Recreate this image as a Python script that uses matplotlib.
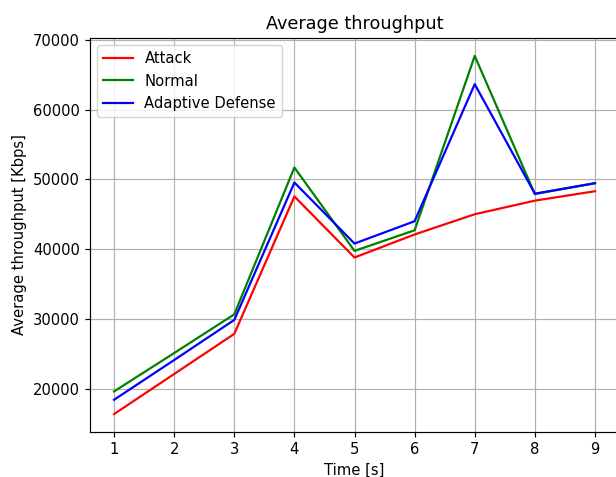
import matplotlib
matplotlib.use("Agg")
import matplotlib.pyplot as plt

time_s = [1, 2, 3, 4, 5, 6, 7, 8, 9]
attack = [16350, 22100, 27850, 47550, 38800, 42100, 45000, 46950, 48300]
normal = [19600, 25100, 30650, 51700, 39750, 42700, 67700, 47900, 49450]
adaptive = [18400, 24100, 29850, 49550, 40800, 44000, 63650, 47950, 49450]

W, H = 616, 477
DPI = 106
fig = plt.figure(figsize=(W / DPI, H / DPI), dpi=DPI)
ax = fig.add_axes([90 / W, (H - 432) / H, 529 / W, 394 / H])

ax.plot(time_s, attack, color='red', label='Attack')
ax.plot(time_s, normal, color='green', label='Normal')
ax.plot(time_s, adaptive, color='blue', label='Adaptive Defense')

ax.set_title('Average throughput')
ax.set_xlabel('Time [s]')
ax.set_ylabel('Average throughput [Kbps]')
ax.grid(True)
ax.legend(loc='upper left')

fig.savefig('out.png', dpi=DPI)
